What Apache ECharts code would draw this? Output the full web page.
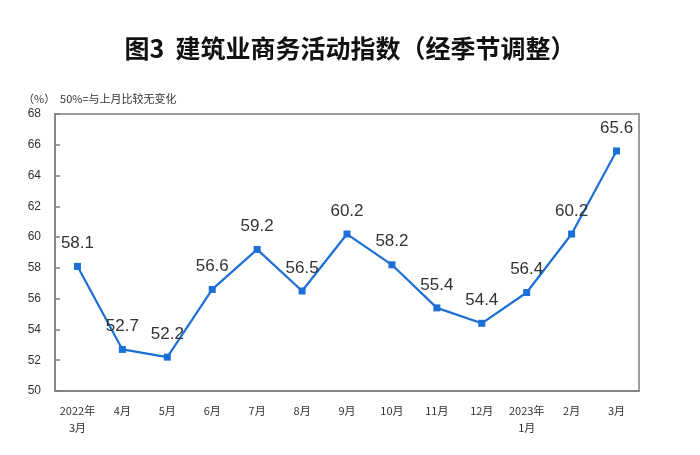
<!DOCTYPE html>
<html>
<head>
<meta charset="utf-8">
<script src="https://cdn.jsdelivr.net/npm/echarts@6/dist/echarts.min.js"></script>
<style>
  html, body { margin: 0; padding: 0; background: #fff; }
  #chart { width: 700px; height: 455px; }
</style>
</head>
<body>
<div id="chart"></div>
<script>
const months = ["2022年\n3月", "4月", "5月", "6月", "7月", "8月", "9月", "10月", "11月", "12月", "2023年\n1月", "2月", "3月"];
const indexValues = [58.1, 52.7, 52.2, 56.6, 59.2, 56.5, 60.2, 58.2, 55.4, 54.4, 56.4, 60.2, 65.6];
const yMin = 50, yMax = 68, yStep = 2;

const chart = echarts.init(document.getElementById("chart"));
const axisColor = "#7f7f7f";
const cjk = "'Noto Sans CJK SC', 'Noto Sans', sans-serif";

chart.setOption({
  animation: false,
  title: [
    {
      text: "图3  建筑业商务活动指数（经季节调整）",
      left: "center",
      top: 31,
      textStyle: { fontFamily: cjk, fontSize: 25, fontWeight: "bold", color: "#111" }
    },
    {
      text: "（%）  50%=与上月比较无变化",
      left: 18,
      top: 88,
      textStyle: { fontFamily: cjk, fontSize: 11, fontWeight: "normal", color: "#333" }
    }
  ],
  grid: { left: 55, right: 61, top: 114, bottom: 64, show: true, borderColor: axisColor, borderWidth: 1.5 },
  xAxis: {
    type: "category",
    data: months,
    boundaryGap: true,
    axisLine: { lineStyle: { color: axisColor, width: 1.5 } },
    axisTick: { inside: true, length: 5, lineStyle: { color: axisColor, width: 1.5 } },
    axisLabel: { color: "#333", fontSize: 11, fontFamily: cjk, margin: 11, lineHeight: 17, interval: 0 }
  },
  yAxis: {
    type: "value",
    min: yMin,
    max: yMax,
    interval: yStep,
    splitLine: { show: false },
    axisLine: { show: true, lineStyle: { color: axisColor, width: 1.5 } },
    axisTick: { show: true, inside: true, length: 5, lineStyle: { color: axisColor, width: 1.5 } },
    axisLabel: { color: "#333", fontSize: 12, fontFamily: "Arial, 'Liberation Sans', sans-serif", margin: 14 }
  },
  series: [
    {
      type: "line",
      data: indexValues,
      symbol: "rect",
      symbolSize: 7,
      itemStyle: { color: "#1b6fd6" },
      lineStyle: { color: "#1b6fd6", width: 2.2 },
      label: {
        show: true,
        position: "top",
        distance: 11,
        fontSize: 17,
        color: "#333",
        fontFamily: "Arial, 'Liberation Sans', sans-serif"
      }
    }
  ]
});
</script>
</body>
</html>
